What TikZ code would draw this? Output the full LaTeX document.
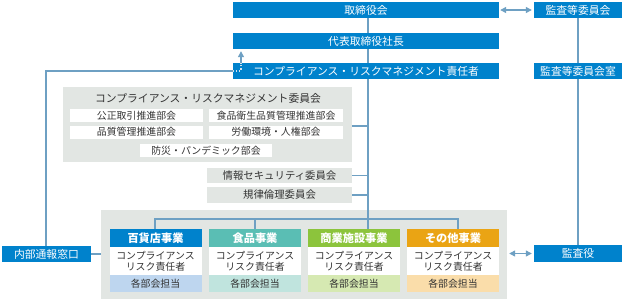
\documentclass[tikz,border=0pt]{standalone}
\usepackage{fontspec}
\setmainfont{Noto Sans CJK JP}
\usetikzlibrary{arrows.meta,backgrounds}
\definecolor{mainblue}{RGB}{0,130,204}
\definecolor{tealh}{RGB}{90,190,180}
\definecolor{greenh}{RGB}{140,196,60}
\definecolor{orangeh}{RGB}{234,164,20}
\definecolor{bluef}{RGB}{190,214,239}
\definecolor{tealf}{RGB}{192,228,222}
\definecolor{greenf}{RGB}{214,233,178}
\definecolor{orangef}{RGB}{250,221,170}
\definecolor{panelgray}{RGB}{226,230,227}
\definecolor{linec}{RGB}{110,160,195}
\definecolor{darktext}{RGB}{51,51,51}
\tikzset{
  bluebox/.style={fill=mainblue, text=white, minimum height=16pt, inner sep=0pt,
    font=\fontsize{10.8}{12}\selectfont},
  whitebox/.style={fill=white, text=darktext, minimum height=13pt, inner sep=0pt,
    font=\fontsize{9.9}{11}\selectfont},
  graybox/.style={fill=panelgray, text=darktext, inner sep=0pt,
    font=\fontsize{10.4}{12}\selectfont},
  bizhead/.style={fill=#1, text=white, minimum width=92pt, minimum height=18pt, inner sep=0pt,
    font=\fontsize{11.2}{12}\selectfont\bfseries},
  bizbody/.style={fill=white, text=darktext, minimum width=92pt, minimum height=28pt, inner sep=0pt,
    align=center, font=\fontsize{9.9}{11}\selectfont},
  bizfoot/.style={fill=#1, text=darktext, minimum width=92pt, minimum height=17pt, inner sep=0pt,
    font=\fontsize{9.9}{11}\selectfont},
  conn/.style={draw=linec, line width=1.2pt},
  dblarrow/.style={draw=linec, line width=1.2pt, {Triangle[width=6pt,length=6pt]}-{Triangle[width=6pt,length=6pt]}},
}
\begin{document}
\begin{tikzpicture}[x=1pt,y=-1pt]
\useasboundingbox (0,0) rectangle (624,301);
\begin{scope}[on background layer]
\fill[white] (0,0) rectangle (624,301);
\node[graybox, minimum width=289pt, minimum height=75pt] (crmpanel) at (207.5,124.5) {};
\node[graybox, minimum width=406pt, minimum height=89pt] (bizpanel) at (304,254.5) {};
\end{scope}
\coordinate (spine) at (368,0);
\coordinate (bus) at (0,219);
% boxes top
\node[bluebox, minimum width=266pt] (board) at (366,10) {取締役会};
\node[bluebox, minimum width=88pt] (audcom) at (578,10) {監査等委員会};
\node[bluebox, minimum width=266pt] (pres) at (366,41) {代表取締役社長};
\node[bluebox, minimum width=266pt] (crmo) at (366,71) {コンプライアンス・リスクマネジメント責任者};
\node[bluebox, minimum width=88pt] (audroom) at (578,71) {監査等委員会室};
\node[bluebox, minimum width=88pt, minimum height=17pt] (auditor) at (578,253.5) {監査役};
\node[bluebox, minimum width=89pt] (whistle) at (46.5,254) {内部通報窓口};
% committee panel contents
\node[text=darktext, font=\fontsize{10.8}{12}\selectfont, inner sep=0pt] (crmtitle) at (208,98) {コンプライアンス・リスクマネジメント委員会};
\node[whitebox, minimum width=133pt] (sub1) at (136.5,115.5) {公正取引推進部会};
\node[whitebox, minimum width=134pt] (sub2) at (276,115.5) {食品衛生品質管理推進部会};
\node[whitebox, minimum width=133pt] (sub3) at (136.5,132) {品質管理推進部会};
\node[whitebox, minimum width=134pt] (sub4) at (276,132) {労働環境・人権部会};
\node[whitebox, minimum width=132pt] (sub5) at (206,150.5) {防災・パンデミック部会};
\node[graybox, minimum width=145pt, minimum height=15pt] (infosec) at (279.5,175.5) {情報セキュリティ委員会};
\node[graybox, minimum width=145pt, minimum height=16pt] (ethics) at (279.5,195) {規律倫理委員会};
% business boxes
\foreach \n/\x/\name/\hc/\fc in {b1/155.5/百貨店事業/mainblue/bluef, b2/255/食品事業/tealh/tealf, b3/354/商業施設事業/greenh/greenf, b4/453/その他事業/orangeh/orangef}{
  \node[bizhead=\hc] (\n h) at (\x,238) {\name};
  \node[bizbody] (\n m) at (\x,261) {コンプライアンス\\リスク責任者};
  \node[bizfoot=\fc] (\n f) at (\x,283.5) {各部会担当};
}
% spine behind boxes
\begin{scope}[on background layer]
\draw[conn] (board.south -| spine) -- (spine |- b3h.north);
\end{scope}
% connectors
\draw[conn] (crmpanel.east |- 0,126) -- (spine |- 0,126);
\draw[conn] (infosec.east) -- (infosec.east -| spine);
\draw[conn] (ethics.east) -- (ethics.east -| spine);
\coordinate (d1) at (155,0);
\coordinate (d2) at (255,0);
\coordinate (d4) at (458,0);
\draw[conn] (d1 |- b1h.north) -- (d1 |- bus) -- (d4 |- bus) -- (d4 |- b4h.north);
\draw[conn] (d2 |- bus) -- (d2 |- b2h.north);
\draw[conn] (audcom.south) -- (audroom.north);
\draw[conn] (audroom.south) -- (auditor.north);
\draw[dblarrow] ([xshift=1pt]board.east) -- ([xshift=-2pt]audcom.west);
\draw[dblarrow] ([xshift=2pt]bizpanel.east |- auditor.west) -- ([xshift=-2pt]auditor.west);
\draw[conn] (whistle.east) -- (bizpanel.west |- whistle.east);
\coordinate (up) at (241,0);
\draw[conn] (whistle.north -| 46,0) -- (46,71) -- (crmo.west);
\draw[draw=white!70!linec, line width=1.2pt, dotted] (crmo.west) -- (up |- crmo.west) -- (up |- crmo.north);
\draw[conn, -{Triangle[width=6pt,length=6pt]}] (up |- crmo.north) -- ([yshift=-2pt]up |- pres.south);
\end{tikzpicture}
\end{document}
